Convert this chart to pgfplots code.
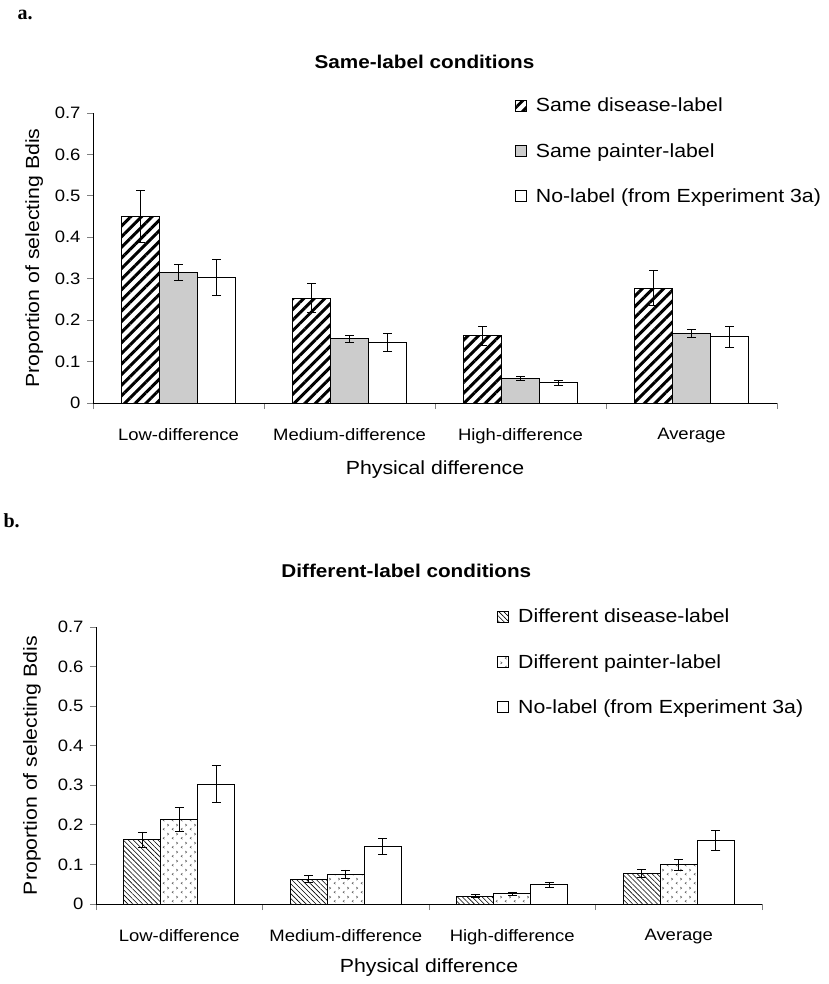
\documentclass[border=0pt]{standalone}
\usepackage{fontspec}
\setmainfont{Liberation Sans}[FakeStretch=1.12]
\newfontfamily\panelfont{Liberation Serif}
\usepackage{pgfplots}
\pgfplotsset{compat=1.18}
\usetikzlibrary{patterns,patterns.meta}

\tikzdeclarepattern{
  name=chev,
  type=uncolored,
  bottom left={(0pt,0pt)}, top right={(9pt,9pt)}, tile size={(9pt,9pt)},
  code={
    \draw[line width=0.6pt] (2.8pt,0.8pt) -- (1.2pt,2pt) -- (2.8pt,3.2pt);
    \draw[line width=0.6pt] (5.8pt,5.3pt) -- (7.4pt,6.5pt) -- (5.8pt,7.7pt);
  }
}

\pgfplotsset{
  mybars/.style={
    scale only axis,
    ybar=0pt, bar width=38pt,
    xmin=-0.5, xmax=3.5, ymin=0, ymax=0.7,
    axis x line*=bottom, axis y line*=left,
    axis line style={line width=0.9pt},
    xtick={0,1,2,3},
    xticklabels={Low-difference,Medium-difference,High-difference,Average},
    major x tick style={draw=none},
    minor xtick={-0.5,0.5,1.5,2.5,3.5},
    minor x tick style={line width=0.9pt},
    minor tick length=6pt,
    major tick length=6pt,
    tick align=outside,
    ytick={0,0.1,0.2,0.3,0.4,0.5,0.6,0.7},
    yticklabels={0,0.1,0.2,0.3,0.4,0.5,0.6,0.7},
    major y tick style={line width=0.9pt},
    /pgf/number format/assume math mode=true,
    xticklabel style={font=\fontsize{16.5}{19}\selectfont, yshift=-16pt},
    yticklabel style={font=\fontsize{16.5}{19}\selectfont, xshift=-3pt},
    xlabel={Physical difference},
    ylabel={Proportion of selecting Bdis},
    label style={font=\fontsize{19}{22}\selectfont},
    title style={font=\bfseries\fontsize{18.5}{22}\selectfont, anchor=center},
    legend cell align=left,
    legend image code/.code={\draw[##1,line width=0.7pt] (0pt,-5.5pt) rectangle (11pt,5.5pt);},
    error bars/y dir=both, error bars/y explicit,
    error bars/error bar style={line width=0.9pt, black},
    error bars/error mark options={rotate=90, mark size=4.5pt, line width=0.9pt, black},
    every axis plot/.append style={draw=black, line width=0.9pt},
  }
}

\begin{document}
\begin{tikzpicture}
\path[use as bounding box] (0,0) rectangle (828pt,-984pt);

\node[anchor=west, font=\panelfont\bfseries\fontsize{20}{24}\selectfont] at (14pt,-15pt) {a.};
\node[anchor=west, font=\panelfont\bfseries\fontsize{20}{24}\selectfont] at (0pt,-521pt) {b.};

% ---------- panel a ----------
\begin{axis}[mybars,
  at={(93pt,-403pt)}, anchor=south west,
  width=684pt, height=290pt,
  title={Same-label conditions},
  title style={at={(axis description cs:0.4846,1.155)}},
  xlabel style={at={(axis description cs:0.5,-0.228)}, anchor=center},
  ylabel style={at={(axis description cs:-0.086,0.5)}, anchor=center},
  legend style={draw=none, fill=none, at={(0.6126,1.066)}, anchor=north west,
    font=\fontsize{19}{22}\selectfont, row sep=26pt},
]
\addplot[pattern={Lines[angle=45,distance=7.5pt,line width=3pt]}] coordinates {
  (0,0.450) +- (0,0.063)
  (1,0.253) +- (0,0.035)
  (2,0.162) +- (0,0.022)
  (3,0.277) +- (0,0.042)
};
\addplot[fill=black!20] coordinates {
  (0,0.315) +- (0,0.020)
  (1,0.155) +- (0,0.009)
  (2,0.059) +- (0,0.005)
  (3,0.168) +- (0,0.010)
};
\addplot[fill=white] coordinates {
  (0,0.303) +- (0,0.044)
  (1,0.146) +- (0,0.021)
  (2,0.049) +- (0,0.006)
  (3,0.160) +- (0,0.025)
};
\legend{\hspace*{7pt}Same disease-label, \hspace*{7pt}Same painter-label, \hspace*{7pt}No-label (from Experiment 3a)}
\end{axis}

% ---------- panel b ----------
\begin{axis}[mybars,
  at={(96pt,-904pt)}, anchor=south west,
  width=666pt, height=277pt,
  bar width=37pt,
  title={Different-label conditions},
  title style={at={(axis description cs:0.466,1.180)}},
  xlabel style={at={(axis description cs:0.5,-0.231)}, anchor=center},
  ylabel style={at={(axis description cs:-0.096,0.5)}, anchor=center},
  legend style={draw=none, fill=none, at={(0.598,1.080)}, anchor=north west,
    font=\fontsize{19}{22}\selectfont, row sep=26pt},
]
\addplot[pattern={Lines[angle=-45,distance=3.5pt,line width=0.6pt]}] coordinates {
  (0,0.162) +- (0,0.020)
  (1,0.063) +- (0,0.009)
  (2,0.020) +- (0,0.003)
  (3,0.078) +- (0,0.010)
};
\addplot[pattern=chev, pattern color=black!65] coordinates {
  (0,0.214) +- (0,0.030)
  (1,0.075) +- (0,0.011)
  (2,0.026) +- (0,0.004)
  (3,0.099) +- (0,0.013)
};
\addplot[fill=white] coordinates {
  (0,0.303) +- (0,0.046)
  (1,0.146) +- (0,0.020)
  (2,0.049) +- (0,0.006)
  (3,0.160) +- (0,0.025)
};
\legend{\hspace*{7pt}Different disease-label, \hspace*{7pt}Different painter-label, \hspace*{7pt}No-label (from Experiment 3a)}
\end{axis}
\end{tikzpicture}
\end{document}
